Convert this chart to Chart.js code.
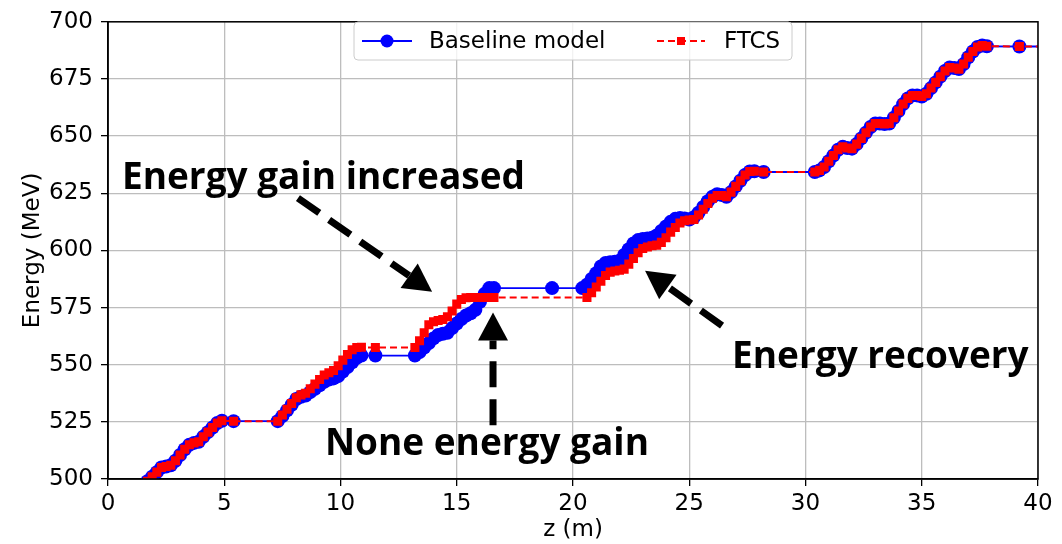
<!DOCTYPE html>
<html>
<head>
<meta charset="utf-8">
<script src="https://cdn.jsdelivr.net/npm/chart.js@4/dist/chart.umd.min.js"></script>
<style>
  html, body { margin: 0; padding: 0; background: #fff; }
  #chart { display: block; }
</style>
</head>
<body>
<canvas id="chart" width="1062" height="544"></canvas>
<script>
// energy along the linac
// rise 1 (both models agree)
const zRise1 = [1.7, 1.9, 2.1, 2.3, 2.5, 2.7, 2.9, 3.1, 3.3, 3.5, 3.7, 3.9, 4.1, 4.3, 4.5, 4.7, 4.9, 5.4];
const eRise1 = [499, 501, 503, 505, 505.5, 506, 508, 510.5, 513, 515, 515.8, 516.3, 518.5, 520.5, 522.5, 524.5, 525.5, 525.3];

// rise 2
const zRise2 = [7.3, 7.5, 7.7, 7.9, 8.1, 8.3, 8.5, 8.7, 8.9, 9.1, 9.3, 9.5, 9.7, 9.9, 10.1, 10.3, 10.5, 10.7, 10.9, 11.5];
const eBase2 = [525.3, 527.5, 530, 532.5, 535, 536, 536.5, 538, 539.5, 541, 542.5, 543.5, 544, 545, 547, 549, 551, 553, 554, 554];
const eFtcs2 = [525.3, 528, 530.5, 533, 535.5, 536.8, 537.5, 539.5, 541.5, 543.5, 545.5, 546.5, 547.5, 549.5, 552, 554.5, 556.5, 557.5, 557.6, 557.5];

// rise 3
const zRise3 = [13.2, 13.4, 13.6, 13.8, 14.0, 14.2, 14.4, 14.6, 14.8, 15.0, 15.2, 15.4, 15.6, 15.8, 16.0, 16.2, 16.4, 16.6];
const eBase3 = [554, 555.5, 557.5, 559.5, 561.5, 563, 563.5, 564, 566, 568, 570, 571.5, 572.5, 574, 577.5, 581, 583.5, 583.5];
const eFtcs3 = [557.5, 560.5, 564, 567.5, 568.8, 569.3, 569.8, 571, 573.5, 576.5, 578.5, 579.3, 579.4, 579.4, 579.4, 579.4, 579.4, 579.4];

// rise 4
const zBase4 = [19.1, 20.4, 20.6, 20.8, 21.0, 21.2, 21.4, 21.6, 21.8, 22.0, 22.2, 22.4, 22.6, 22.8, 23.0, 23.2, 23.4, 23.6, 23.8, 24.0,
  24.2, 24.4, 24.6, 24.8, 25.0, 25.2, 25.4, 25.6, 25.8, 26.0, 26.2, 26.4, 26.6, 26.8, 27.0, 27.2, 27.4, 27.6, 27.8, 28.2];
const eBase4 = [583.5, 583.5, 585, 587.5, 590, 593, 594.5, 594.8, 595, 595.5, 598, 600.5, 603, 604.5, 605, 605.2, 605.5, 606.5, 608.5, 610.5,
  612.5, 613.8, 614.2, 614, 613.5, 614.5, 616.5, 619, 621.5, 623.5, 624.6, 624.2, 623.5, 625.5, 628, 630.5, 633, 634.5, 634.6, 634.3];
const zFtcs4 = [20.6, 20.8, 21.0, 21.2, 21.4, 21.6, 21.8, 22.0, 22.2, 22.4, 22.6, 22.8, 23.0, 23.2, 23.4, 23.6, 23.8, 24.0, 24.2, 24.4,
  24.6, 24.8, 25.0, 25.2, 25.4, 25.6, 25.8, 26.0, 26.2, 26.4, 26.6, 26.8, 27.0, 27.2, 27.4, 27.6, 27.8, 28.2];
const eFtcs4 = [579.4, 581.5, 584, 586.5, 589, 590.5, 591, 591.3, 591.8, 594, 596.5, 599, 600.8, 601.5, 602, 602.3, 603.5, 605.5, 608, 610,
  612, 613, 613.3, 613.5, 615.5, 618, 620.5, 622.8, 624, 624, 623.5, 625.5, 628, 630.5, 633, 634.5, 634.6, 634.3];

// rise 5 (both models agree again)
const zRise5 = [30.4, 30.6, 30.8, 31.0, 31.2, 31.4, 31.6, 31.8, 32.0, 32.2, 32.4, 32.6, 32.8, 33.0, 33.2, 33.4, 33.6, 33.8, 34.0, 34.2,
  34.4, 34.6, 34.8, 35.0, 35.2, 35.4, 35.6, 35.8, 36.0, 36.2, 36.4, 36.6, 36.8, 37.0, 37.2, 37.4, 37.6, 37.8, 39.2, 40.5];
const eRise5 = [634.3, 635, 636.5, 639, 641.5, 644, 645.3, 644.8, 644.5, 646.5, 649, 651.5, 654, 655.5, 655.5, 655.3, 655.5, 658, 661, 664,
  666.5, 667.8, 667.8, 667.3, 668.5, 671, 673.5, 676, 678.5, 680, 679.8, 679.3, 681.5, 684.5, 687, 689, 689.6, 689.3, 689.2, 689.2];

const xTicks = [0, 5, 10, 15, 20, 25, 30, 35, 40];
const yTicks = [500, 525, 550, 575, 600, 625, 650, 675, 700];

const baseZ = [...zRise1, ...zRise2, ...zRise3, ...zBase4, ...zRise5];
const baseE = [...eRise1, ...eBase2, ...eBase3, ...eBase4, ...eRise5];
const ftcsZ = [...zRise1, ...zRise2, ...zRise3, ...zFtcs4, ...zRise5];
const ftcsE = [...eRise1, ...eFtcs2, ...eFtcs3, ...eFtcs4, ...eRise5];

const toPoints = (zs, es) => zs.map((z, i) => ({ x: z, y: es[i] }));

// callouts pasted on the figure (data coordinates)
const notes = [
  { text: 'Energy gain increased', z: 0.6, e: 626.8 },
  { text: 'None energy gain', z: 9.33, e: 510.5 },
  { text: 'Energy recovery', z: 26.84, e: 548.4 },
];
const arrows = [
  { from: [8.17, 622.9], to: [13.94, 581.9] },
  { from: [16.56, 523.5], to: [16.56, 572.8] },
  { from: [26.41, 567.1], to: [23.1, 591.1] },
];

const TICK_FONT = { family: 'DejaVu Sans', size: 23 };
const GRID = '#bdbdbd';

function drawArrow(ctx, x1, y1, x2, y2) {
  const ang = Math.atan2(y2 - y1, x2 - x1);
  const headLen = 28, headHalf = 15;
  const bx = x2 - headLen * Math.cos(ang);
  const by = y2 - headLen * Math.sin(ang);
  ctx.save();
  ctx.strokeStyle = '#000';
  ctx.fillStyle = '#000';
  ctx.lineWidth = 7;
  ctx.lineCap = 'butt';
  ctx.setLineDash([26, 12]);
  ctx.beginPath();
  ctx.moveTo(x1, y1);
  ctx.lineTo(bx, by);
  ctx.stroke();
  ctx.setLineDash([]);
  ctx.beginPath();
  ctx.moveTo(x2, y2);
  ctx.lineTo(bx + headHalf * Math.sin(ang), by - headHalf * Math.cos(ang));
  ctx.lineTo(bx - headHalf * Math.sin(ang), by + headHalf * Math.cos(ang));
  ctx.closePath();
  ctx.fill();
  ctx.restore();
}

const overlay = {
  id: 'overlay',
  afterDraw(chart) {
    const { ctx, chartArea: a, scales: { x, y } } = chart;

    // top / right spines (matplotlib box)
    ctx.save();
    ctx.strokeStyle = '#000';
    ctx.lineWidth = 1.5;
    ctx.strokeRect(a.left, a.top, a.right - a.left, a.bottom - a.top);
    ctx.restore();

    // legend
    ctx.save();
    const lx = 354, ly = 22, lw = 438, lh = 38, cy = ly + lh / 2;
    ctx.beginPath();
    ctx.roundRect(lx, ly, lw, lh, 4);
    ctx.fillStyle = 'rgba(255,255,255,0.8)';
    ctx.fill();
    ctx.strokeStyle = '#cccccc';
    ctx.lineWidth = 1;
    ctx.stroke();

    ctx.strokeStyle = '#0000ff';
    ctx.lineWidth = 1.8;
    ctx.beginPath(); ctx.moveTo(362, cy); ctx.lineTo(412, cy); ctx.stroke();
    ctx.fillStyle = '#0000ff';
    ctx.beginPath(); ctx.arc(387, cy, 6.5, 0, Math.PI * 2); ctx.fill();

    ctx.strokeStyle = '#ff0000';
    ctx.setLineDash([7, 4]);
    ctx.beginPath(); ctx.moveTo(657, cy); ctx.lineTo(705, cy); ctx.stroke();
    ctx.setLineDash([]);
    ctx.fillStyle = '#ff0000';
    ctx.fillRect(677, cy - 4, 8, 8);

    ctx.fillStyle = '#000';
    ctx.font = '23px "DejaVu Sans"';
    ctx.textBaseline = 'middle';
    ctx.fillText('Baseline model', 429, cy + 1);
    ctx.fillText('FTCS', 724, cy + 1);
    ctx.restore();

    // callouts
    ctx.save();
    ctx.fillStyle = '#000';
    ctx.font = 'bold 37px "Open Sans"';
    ctx.textBaseline = 'alphabetic';
    notes.forEach((n) => {
      ctx.fillText(n.text, x.getPixelForValue(n.z), y.getPixelForValue(n.e));
    });
    ctx.restore();

    arrows.forEach((ar) => {
      drawArrow(ctx,
        x.getPixelForValue(ar.from[0]), y.getPixelForValue(ar.from[1]),
        x.getPixelForValue(ar.to[0]), y.getPixelForValue(ar.to[1]));
    });
  },
};

new Chart(document.getElementById('chart'), {
  type: 'scatter',
  data: {
    datasets: [
      {
        label: 'Baseline model',
        data: toPoints(baseZ, baseE),
        showLine: true,
        borderColor: '#0000ff',
        borderWidth: 1.8,
        backgroundColor: '#0000ff',
        pointBackgroundColor: '#0000ff',
        pointBorderWidth: 0,
        pointRadius: 7,
        pointStyle: 'circle',
        order: 2,
      },
      {
        label: 'FTCS',
        data: toPoints(ftcsZ, ftcsE),
        showLine: true,
        borderColor: '#ff0000',
        borderWidth: 2,
        borderDash: [7, 4],
        backgroundColor: '#ff0000',
        pointBackgroundColor: '#ff0000',
        pointBorderWidth: 0,
        pointRadius: 6.4,
        pointStyle: 'rect',
        order: 1,
      },
    ],
  },
  options: {
    responsive: false,
    animation: false,
    devicePixelRatio: 1,
    layout: { padding: { top: 20, right: 24, left: 0, bottom: 0 } },
    plugins: {
      legend: { display: false },
      tooltip: { enabled: false },
    },
    scales: {
      x: {
        type: 'linear',
        min: 0,
        max: 40,
        afterBuildTicks: (s) => { s.ticks = xTicks.map((v) => ({ value: v })); },
        afterFit: (s) => { s.height = 65; },
        ticks: { font: TICK_FONT, color: '#000', padding: 4, maxRotation: 0 },
        grid: { color: GRID, lineWidth: 1.3, tickColor: '#000', tickLength: 7, tickWidth: 1.3 },
        border: { color: '#000', width: 1.5 },
        title: { display: true, text: 'z (m)', font: TICK_FONT, color: '#000', padding: { top: 0, bottom: 0 } },
      },
      y: {
        type: 'linear',
        min: 500,
        max: 700,
        afterBuildTicks: (s) => { s.ticks = yTicks.map((v) => ({ value: v })); },
        afterFit: (s) => { s.width = 108; },
        ticks: { font: TICK_FONT, color: '#000', padding: 8 },
        grid: { color: GRID, lineWidth: 1.3, tickColor: '#000', tickLength: 7, tickWidth: 1.3 },
        border: { color: '#000', width: 1.5 },
        title: { display: true, text: 'Energy (MeV)', font: TICK_FONT, color: '#000', padding: { top: 19, bottom: 0 } },
      },
    },
  },
  plugins: [overlay],
});
</script>
</body>
</html>
